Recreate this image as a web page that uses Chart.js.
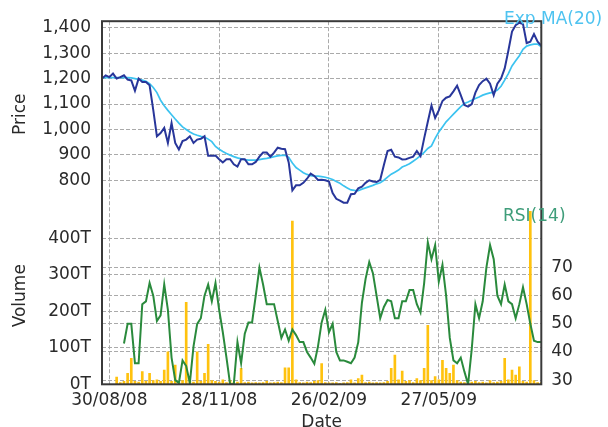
<!DOCTYPE html>
<html>
<head>
<meta charset="utf-8">
<script src="https://cdn.jsdelivr.net/npm/chart.js@4/dist/chart.umd.min.js"></script>
<style>
html, body { margin: 0; padding: 0; background: #fff; overflow: hidden; }
</style>
</head>
<body>
<canvas id="myChart" width="608" height="427"></canvas>
<script>
// x categories: one point every 3 days from 24/08/08
const dates = [];
for (let i = 0; i < 121; i++) {
    const d = new Date(2008, 7, 24 + i * 3);
    const dd = String(d.getDate()).padStart(2, '0');
    const mm = String(d.getMonth() + 1).padStart(2, '0');
    const yy = String(d.getFullYear()).slice(2);
    dates.push(dd + '/' + mm + '/' + yy);
}
const dateTicks = ['30/08/08', '28/11/08', '26/02/09', '27/05/09'];

// price and its exponential moving average
const price = [
    1200, 1213, 1206, 1220, 1200, 1206, 1213, 1196, 1193, 1152,
    1200, 1187, 1187, 1174, 1077, 973, 986, 1006, 947, 1025,
    947, 921, 954, 960, 973, 947, 960, 963, 973, 896,
    896, 897, 883, 870, 883, 883, 863, 854, 883, 883,
    863, 863, 872, 893, 909, 909, 893, 909, 928, 924,
    922, 870, 760, 780, 780, 790, 806, 826, 817, 801,
    802, 800, 795, 750, 727, 720, 712, 712, 745, 747,
    768, 775, 790, 800, 795, 793, 802, 860, 915, 920,
    893, 890, 882, 883, 888, 893, 915, 895, 965, 1030,
    1094, 1045, 1075, 1112, 1125, 1130, 1150, 1172, 1135, 1096,
    1090, 1100, 1145, 1175, 1190, 1200, 1180, 1135, 1180, 1200,
    1240, 1310, 1385, 1410, 1420, 1415, 1340, 1345, 1375, 1345,
    1330
];
const ema = [
    1204, 1204, 1204, 1204, 1204, 1204, 1204, 1204, 1203, 1200,
    1197, 1194, 1190, 1180, 1165, 1145, 1115, 1093, 1075, 1058,
    1041, 1025, 1010, 1000, 990, 982, 977, 973, 970, 962,
    952, 933, 922, 913, 905, 899, 893, 888, 884, 881,
    879, 879, 879, 881, 884, 886, 889, 893, 896, 898,
    898, 890, 868, 850, 840, 830, 823, 818, 816, 816,
    814, 812, 808, 803, 795, 788, 778, 770, 762, 760,
    759, 765, 770, 775, 780, 786, 790, 800, 812, 824,
    832, 840, 852, 858, 865, 875, 885, 897, 910, 925,
    935, 965, 990, 1010, 1030, 1045, 1060, 1075, 1090, 1102,
    1108, 1115, 1122, 1128, 1135, 1140, 1144, 1147, 1155, 1170,
    1194, 1220, 1250, 1270, 1290, 1315, 1328, 1333, 1336, 1336,
    1325
];

// volume in thousands (T)
const volume = [
    0, 0, 0, 0, 20, 5, 8, 30, 71, 8,
    6, 35, 8, 30, 10, 12, 8, 39, 89, 8,
    53, 6, 10, 225, 8, 6, 89, 8, 30, 110,
    10, 8, 6, 12, 5, 10, 5, 6, 44, 5,
    6, 4, 5, 4, 5, 8, 4, 5, 6, 5,
    45, 45, 448, 12, 5, 4, 6, 5, 8, 10,
    57, 5, 4, 4, 5, 3, 4, 5, 12, 4,
    16, 25, 5, 6, 4, 5, 4, 5, 8, 44,
    80, 12, 36, 8, 10, 5, 16, 10, 44, 162,
    10, 21, 12, 66, 44, 30, 53, 10, 6, 5,
    4, 6, 8, 5, 6, 4, 10, 5, 6, 8,
    71, 12, 39, 25, 48, 8, 6, 475, 10, 5,
    5
];

// RSI(14)
const rsi = [
    null, null, null, null, null, null, 43, 50, 50, 36,
    36, 57, 58, 64.5, 60, 51, 53, 64, 55, 38,
    30, 29, 37, 35, 29, 42, 50, 52, 60, 64,
    58, 64.5, 55, 47, 38, 28.5, 28.5, 43.5, 36, 46.5,
    50.5, 50.5, 60, 70, 64, 57, 57, 57, 51, 45,
    48, 44, 48, 46, 43.5, 43.5, 40, 38, 35.8, 42,
    50.5, 55, 47, 50, 40, 37, 37, 36.5, 36, 38,
    43.5, 57.5, 66, 72, 68, 60, 52, 56, 58.5, 58,
    52, 52, 58, 58, 62, 62, 57, 54, 64.5, 79,
    73, 78, 65, 71, 60, 45, 37, 36, 38, 33,
    28.5, 41, 57, 52, 58, 70, 78, 73, 60, 57,
    64, 58, 57, 52, 57, 63, 57, 50, 44, 43.5,
    43.5
];

const priceTicks = [800, 900, 1000, 1100, 1200, 1300, 1400];
const volumeTicks = [0, 100, 200, 300, 400];
const rsiTicks = [30, 40, 50, 60, 70];

const FONT = 'DejaVu Sans';
const TEXT = '#2a2a2a';
const gridOpts = { color: '#aaa', lineWidth: 1, drawTicks: false };
const borderOpts = { display: false, dash: [4, 2] };

// frame round the plot and the two series labels
const framePlugin = {
    id: 'frame',
    afterDraw(chart) {
        const { ctx, chartArea } = chart;
        ctx.save();
        ctx.strokeStyle = '#3a3a3a';
        ctx.lineWidth = 2;
        ctx.strokeRect(chartArea.left, chartArea.top, chartArea.right - chartArea.left, chartArea.bottom - chartArea.top);
        ctx.font = '17px "' + FONT + '"';
        ctx.textBaseline = 'middle';
        ctx.fillStyle = '#4ec3f0';
        ctx.fillText('Exp MA(20)', 504, 20);
        ctx.fillStyle = '#3f9d7a';
        ctx.fillText('RSI(14)', 503, 217);
        ctx.restore();
    }
};

const ctx = document.getElementById('myChart').getContext('2d');
const myChart = new Chart(ctx, {
    type: 'line',
    data: {
        labels: dates,
        datasets: [
            { label: 'Price', data: price, yAxisID: 'y', borderColor: '#28369a', borderWidth: 2, pointRadius: 0, tension: 0, order: 0 },
            { label: 'Exp MA(20)', data: ema, yAxisID: 'y', borderColor: '#3cc3f0', borderWidth: 1.7, pointRadius: 0, tension: 0, order: 1 },
            { label: 'RSI(14)', data: rsi, yAxisID: 'yr', borderColor: '#2a8a3c', borderWidth: 2, pointRadius: 0, tension: 0, order: 2 },
            { type: 'bar', label: 'Volume', data: volume, yAxisID: 'yv', backgroundColor: '#ffc20e', barThickness: 2, order: 3 }
        ]
    },
    options: {
        responsive: false,
        animation: false,
        devicePixelRatio: 1,
        layout: { padding: { top: 16.7, left: 0, right: 0, bottom: 0 } },
        plugins: { legend: { display: false }, tooltip: { enabled: false } },
        scales: {
            x: {
                type: 'category',
                offset: false,
                grid: { ...gridOpts, offset: false },
                border: borderOpts,
                afterBuildTicks: scale => { scale.ticks = dateTicks.map(t => ({ value: dates.indexOf(t) })); },
                afterFit: scale => { scale.height = 42.7; },
                ticks: { autoSkip: false, maxRotation: 0, padding: 6, color: TEXT, font: { family: FONT, size: 17 } },
                title: { display: true, text: 'Date', color: TEXT, font: { family: FONT, size: 17 }, padding: { top: 0, bottom: -6 } }
            },
            yv: {
                position: 'left',
                stack: 'left',
                stackWeight: 179,
                weight: 0,
                min: 0,
                max: 486,
                grid: gridOpts,
                border: borderOpts,
                afterBuildTicks: scale => { scale.ticks = volumeTicks.map(v => ({ value: v })); },
                afterFit: scale => { scale.width = 102; },
                ticks: { autoSkip: false, padding: 11, color: TEXT, font: { family: FONT, size: 17 }, callback: v => v + 'T' },
                title: { display: true, text: 'Volume', color: TEXT, font: { family: FONT, size: 17 }, padding: { top: 10, bottom: 0 } }
            },
            y: {
                position: 'left',
                stack: 'left',
                stackWeight: 188,
                weight: 1,
                min: 694,
                max: 1426,
                grid: gridOpts,
                border: borderOpts,
                afterBuildTicks: scale => { scale.ticks = priceTicks.map(v => ({ value: v })); },
                afterFit: scale => { scale.width = 102; },
                ticks: { autoSkip: false, padding: 11, color: TEXT, font: { family: FONT, size: 17 }, callback: v => v.toLocaleString('en-US') },
                title: { display: true, text: 'Price', color: TEXT, font: { family: FONT, size: 17 }, padding: { top: 10, bottom: 0 } }
            },
            yr: {
                position: 'right',
                min: 28.5,
                max: 157.6,
                grid: gridOpts,
                border: borderOpts,
                afterBuildTicks: scale => { scale.ticks = rsiTicks.map(v => ({ value: v })); },
                afterFit: scale => { scale.width = 66.7; },
                ticks: { autoSkip: false, padding: 10, color: TEXT, font: { family: FONT, size: 17 } }
            }
        }
    },
    plugins: [framePlugin]
});
</script>
</body>
</html>
